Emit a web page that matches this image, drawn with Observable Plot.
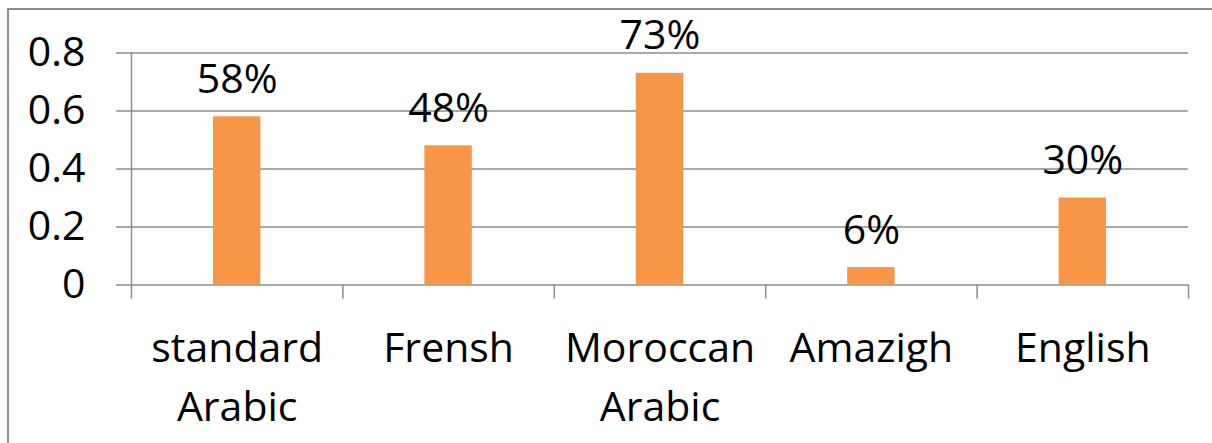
<!DOCTYPE html>
<html><head><meta charset="utf-8">
<script src="https://cdn.jsdelivr.net/npm/d3@7"></script>
<script src="https://cdn.jsdelivr.net/npm/@observablehq/plot@0.6"></script>
<style>
html,body{margin:0;padding:0;background:#fff;overflow:hidden;width:1212px;height:443px}
#border{position:absolute;left:7px;top:8px;width:1300px;height:600px;border:2px solid #8c8c8c;}
#chart{position:absolute;left:0;top:0}
</style></head><body>
<div id="border"></div><div id="chart"></div>
<script>
const categories = ["standard\nArabic", "Frensh", "Moroccan\nArabic", "Amazigh", "English"];
const values = [0.58, 0.48, 0.73, 0.06, 0.30];
const labels = ["58%", "48%", "73%", "6%", "30%"];
const yTicks = [0, 0.2, 0.4, 0.6, 0.8];

const data = categories.map((c, i) => ({i, c, v: values[i], l: labels[i]}));
const font = "'Open Sans', sans-serif";
const grid = "#8c8c8c";

const plot = Plot.plot({
  width: 1212, height: 443,
  marginLeft: 131, marginRight: 24, marginTop: 52.5, marginBottom: 158.5,
  style: {fontFamily: font, fontSize: "41px", color: "#000", background: "transparent", overflow: "visible"},
  x: {type: "linear", domain: [0, categories.length]},
  y: {domain: [0, 0.8]},
  marks: [
    Plot.ruleY(yTicks, {stroke: grid, strokeWidth: 1.5}),
    Plot.rectY(data, {x1: "i", x2: d => d.i + 1, y: "v", fill: "#F79646", insetLeft: 82, insetRight: 82}),
    Plot.ruleX([0], {stroke: grid, strokeWidth: 1.5}),
    Plot.axisY({ticks: yTicks, tickFormat: d => String(d), tickSize: 15, tickPadding: 31, stroke: grid, strokeWidth: 1.5, fill: "#000", fontSize: 41, label: null}),
    Plot.axisX({ticks: d3.range(0, categories.length + 1), tickFormat: () => "", tickSize: 14, stroke: grid, strokeWidth: 1.5, label: null}),
    Plot.axisX({ticks: categories.map((c, i) => i + 0.5), tickFormat: t => categories[Math.floor(t)], tickSize: 0, tickPadding: 36, lineHeight: 1.42, fill: "#000", fontSize: 41, label: null}),
    Plot.text(data, {x: d => d.i + 0.5, y: "v", text: "l", dy: -24, lineAnchor: "bottom", fontSize: 41, fill: "#000"})
  ]
});
document.getElementById("chart").appendChild(plot);
</script>
</body></html>
